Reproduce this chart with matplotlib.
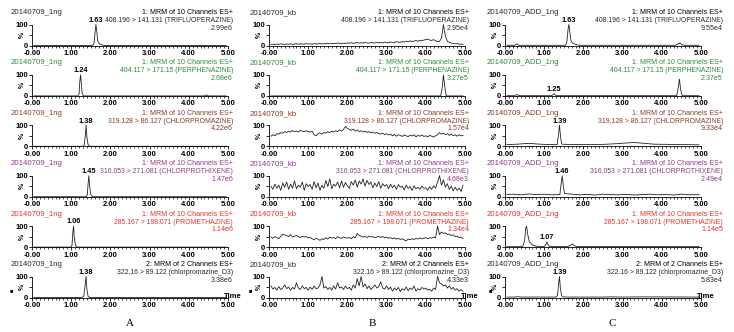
import numpy as np
import matplotlib.pyplot as plt
from matplotlib.ticker import MultipleLocator, FixedLocator, FixedFormatter

plt.rcParams['font.family'] = ['Liberation Sans', 'DejaVu Sans']

W, H = 734, 332

# sample names, one per column
runs = ['20140709_1ng', '20140709_kb', '20140709_ADD_1ng']
column_tags = ['A', 'B', 'C']

# one row per MRM channel
functions = ['1: MRM of 10 Channels ES+'] * 5 + ['2: MRM of 2 Channels ES+']
transitions = ['408.196 > 141.131 (TRIFLUOPERAZINE)',
               '404.117 > 171.15 (PERPHENAZINE)',
               '319.128 > 86.127 (CHLORPROMAZINE)',
               '316.053 > 271.081 (CHLORPROTHIXENE)',
               '285.167 > 198.071 (PROMETHAZINE)',
               '322.16 > 89.122 (chlorpromazine_D3)']
row_colors = ['#2a2a2a', '#2f8a3a', '#8e3b26', '#8c3a8c', '#e8302c', '#2a2a2a']
heights = [['2.99e6', '2.95e4', '9.55e4'],
           ['2.68e6', '3.27e5', '2.37e5'],
           ['4.22e6', '1.57e4', '9.33e4'],
           ['1.47e6', '4.68e3', '2.49e4'],
           ['1.14e6', '1.34e4', '1.14e5'],
           ['3.38e6', '4.33e3', '5.83e4']]

# retention times that get a label (None = no label)
rt_A = [1.63, 1.24, 1.38, 1.45, 1.06, 1.38]
rt_B = [None] * 6
rt_C = [1.63, 1.25, 1.39, 1.46, 1.07, 1.39]

# ---- column A: 1 ng standard ----
A1_t = [0.05, 1.54, 1.58, 1.61, 1.63, 1.65, 1.68, 1.72, 1.78, 1.85, 4.95]
A1_y = [0, 0, 8, 65, 100, 70, 20, 8, 3, 0, 0]
A2_t = [0.05, 1.17, 1.20, 1.22, 1.24, 1.26, 1.28, 1.31, 4.40, 4.45, 4.50, 4.95]
A2_y = [0, 0, 8, 70, 100, 55, 12, 0, 0, 5, 0, 0]
A3_t = [0.05, 1.30, 1.33, 1.36, 1.38, 1.40, 1.43, 1.47, 4.95]
A3_y = [0, 0, 5, 50, 100, 45, 8, 0, 0]
A4_t = [0.05, 1.38, 1.41, 1.43, 1.45, 1.47, 1.50, 1.54, 4.95]
A4_y = [0, 0, 8, 60, 100, 50, 10, 0, 0]
A5_t = [0.05, 0.99, 1.02, 1.04, 1.06, 1.08, 1.11, 1.15, 4.95]
A5_y = [0, 0, 8, 65, 100, 45, 8, 0, 0]
A6_t = [0.05, 1.28, 1.32, 1.35, 1.38, 1.40, 1.43, 1.47, 4.95]
A6_y = [0, 0, 6, 50, 100, 40, 6, 0, 0]

# ---- column B: blank, scans every 0.05 min ----
scan_t = np.round(np.arange(1, 100) * 0.05, 2)
B1_y = [5, 6, 4, 7, 5, 8, 6, 5, 7, 6, 8, 5, 7, 9, 6, 8, 7, 6, 9, 7,
        8, 6, 9, 7, 8, 10, 7, 9, 8, 11, 9, 8, 10, 9, 12, 10, 9, 11, 10, 12,
        11, 13, 10, 12, 14, 11, 13, 12, 15, 12, 11, 14, 13, 12, 15, 13, 14, 12, 16, 14,
        13, 17, 15, 14, 18, 16, 15, 19, 17, 20, 18, 22, 19, 21, 24, 20, 25, 22, 26, 28,
        30, 26, 24, 28, 22, 18, 20, 35, 100, 45, 20, 15, 12, 10, 8, 9, 6, 7, 5]
B2_t = [0.05, 4.38, 4.42, 4.45, 4.48, 4.52, 4.95]
B2_y = [0, 0, 40, 100, 50, 0, 0]
B3_y = [48, 55, 50, 60, 58, 65, 62, 70, 66, 72, 68, 75, 70, 73, 68, 76, 72, 70, 74, 71,
        68, 72, 55, 50, 60, 64, 58, 66, 62, 70, 65, 72, 68, 74, 70, 78, 72, 80, 95, 85,
        80, 76, 82, 72, 78, 70, 74, 68, 72, 66, 70, 64, 68, 62, 66, 60, 58, 63, 56, 60,
        54, 58, 50, 56, 48, 55, 52, 47, 54, 50, 46, 53, 49, 55, 45, 52, 48, 54, 47, 50,
        45, 52, 48, 44, 50, 55, 65, 58, 62, 56, 60, 52, 58, 50, 55, 48, 54, 50, 52]
B4_y = [50, 35, 60, 40, 55, 30, 65, 45, 70, 35, 60, 40, 75, 38, 55, 45, 70, 30, 62, 48,
        58, 35, 72, 42, 65, 30, 55, 40, 78, 48, 85, 38, 60, 50, 70, 42, 75, 45, 68, 52,
        40, 72, 55, 80, 45, 75, 60, 85, 50, 78, 58, 70, 42, 65, 48, 72, 40, 62, 50, 58,
        38, 60, 42, 55, 35, 58, 45, 50, 32, 55, 40, 48, 30, 52, 38, 45, 35, 50, 40, 42,
        30, 48, 35, 52, 40, 70, 100, 55, 80, 45, 62, 35, 50, 28, 45, 30, 40, 25, 55]
B5_y = [48, 42, 50, 45, 40, 52, 62, 58, 55, 50, 60, 48, 52, 55, 50, 45, 52, 48, 50, 44,
        46, 40, 35, 42, 38, 32, 40, 36, 45, 38, 48, 42, 46, 40, 50, 44, 42, 48, 45, 43,
        46, 40, 50, 44, 65, 55, 52, 48, 50, 46, 52, 48, 50, 45, 48, 52, 46, 50, 44, 47,
        42, 45, 40, 44, 38, 42, 36, 40, 34, 30, 38, 35, 40, 36, 42, 38, 44, 40, 42, 45,
        40, 45, 42, 48, 44, 100, 60, 72, 65, 68, 60, 62, 55, 58, 50, 52, 45, 48, 40]
B6_y = [55, 40, 48, 35, 52, 38, 45, 60, 42, 50, 35, 48, 40, 70, 45, 38, 55, 42, 48, 35,
        50, 38, 55, 42, 45, 60, 100, 45, 52, 38, 48, 35, 55, 40, 70, 45, 50, 38, 55, 42,
        48, 35, 60, 45, 90, 55, 100, 50, 65, 42, 55, 38, 48, 60, 45, 52, 75, 45, 40, 55,
        38, 50, 30, 45, 35, 48, 28, 42, 35, 50, 32, 45, 38, 55, 30, 42, 35, 48, 40, 45,
        35, 40, 30, 45, 38, 100, 70, 65, 55, 60, 45, 55, 40, 48, 35, 42, 30, 38, 30]

# ---- column C: spiked sample ----
C1_t = [0.05, 0.25, 0.30, 0.35, 0.5, 1.55, 1.58, 1.61, 1.63, 1.65, 1.68, 1.72, 1.8, 1.9,
        4.35, 4.42, 4.46, 4.52, 4.6, 4.95]
C1_y = [1, 1, 8, 1, 1, 1, 20, 80, 100, 70, 25, 12, 5, 1, 1, 8, 12, 3, 1, 1]
C2_t = [0.05, 0.22, 0.30, 0.38, 0.5, 1.18, 1.22, 1.25, 1.28, 1.32,
        4.38, 4.42, 4.45, 4.48, 4.52, 4.95]
C2_y = [1, 1, 6, 1, 1, 1, 5, 10, 4, 1, 1, 40, 80, 30, 1, 1]
C3_t = [0.05, 0.3, 0.6, 0.9, 1.2, 1.33, 1.36, 1.39, 1.42, 1.45, 1.6, 2.0, 2.5, 2.9,
        3.1, 3.3, 3.5, 3.8, 4.2, 4.6, 4.95]
C3_y = [8, 10, 14, 10, 8, 8, 50, 100, 40, 10, 9, 8, 9, 13, 16, 18, 15, 10, 9, 8, 7]
C4_t = [0.05, 0.2, 0.4, 0.6, 0.8, 1.0, 1.2, 1.40, 1.43, 1.46, 1.49, 1.52, 1.7, 1.9, 2.1,
        2.3, 2.5, 2.7, 2.9, 3.1, 3.3, 3.5, 3.7, 3.9, 4.1, 4.3, 4.5, 4.7, 4.95]
C4_y = [10, 12, 9, 13, 10, 12, 9, 10, 60, 100, 45, 15, 12, 9, 11,
        8, 12, 10, 9, 11, 8, 10, 12, 9, 11, 8, 12, 9, 10]
C5_t = [0.05, 0.45, 0.50, 0.53, 0.55, 0.58, 0.62, 0.7, 0.8, 1.0, 1.04, 1.07, 1.10, 1.14,
        1.6, 1.67, 1.72, 1.77, 1.85, 4.95]
C5_y = [2, 2, 30, 90, 100, 60, 25, 10, 4, 3, 12, 25, 10, 3, 3, 8, 15, 6, 3, 2]
C6_t = [0.05, 0.25, 0.32, 0.4, 0.6, 1.3, 1.34, 1.37, 1.39, 1.41, 1.44, 1.48, 1.6,
        2.5, 2.7, 3.0, 3.5, 4.95]
C6_y = [2, 2, 4, 2, 2, 2, 10, 70, 100, 50, 10, 3, 2, 2, 3, 2, 3, 2]

traces = [[(A1_t, A1_y), (scan_t, B1_y), (C1_t, C1_y)],
          [(A2_t, A2_y), (B2_t, B2_y), (C2_t, C2_y)],
          [(A3_t, A3_y), (scan_t, B3_y), (C3_t, C3_y)],
          [(A4_t, A4_y), (scan_t, B4_y), (C4_t, C4_y)],
          [(A5_t, A5_y), (scan_t, B5_y), (C5_t, C5_y)],
          [(A6_t, A6_y), (scan_t, B6_y), (C6_t, C6_y)]]
labels = [rt_A, rt_B, rt_C]

# layout in pixels
col_x0 = [32, 269, 505]      # x of t=0
col_title = [11, 250, 487]   # left edge of sample name
col_info = [233, 469, 723]   # right edge of channel text
col_marker = [10, 249, 489]  # small square left of the last row
col_tag = [130, 372, 612]
axis_w = 196
row_pitch = 50.4

fig = plt.figure(figsize=(W / 100, H / 100), dpi=100)


def fx(px):
    return px / W


def fy(py):
    return 1 - py / H


for r in range(6):
    top = 12.5 + r * row_pitch
    y100 = top + 12
    y0 = top + 33
    for c in range(3):
        ax = fig.add_axes([fx(col_x0[c]), fy(y0), fx(axis_w), (y0 - y100) / H])
        t, y = traces[r][c]
        ax.plot(t, y, color='#222222', lw=0.6, clip_on=False)
        ax.set_xlim(0, 5)
        ax.set_ylim(0, 100)
        for s in ['top', 'right']:
            ax.spines[s].set_visible(False)
        for s in ['left', 'bottom']:
            ax.spines[s].set_linewidth(0.6)
        ax.patch.set_alpha(0)
        ax.xaxis.set_major_locator(FixedLocator([0, 1, 2, 3, 4, 5]))
        ax.xaxis.set_major_formatter(FixedFormatter(['-0.00', '1.00', '2.00', '3.00', '4.00', '5.00']))
        ax.xaxis.set_minor_locator(MultipleLocator(0.1))
        ax.set_yticks([0, 50, 100])
        ax.set_yticklabels(['0', '', '100'])
        ax.tick_params(axis='x', which='major', length=2.5, width=0.6, pad=0.8,
                       labelsize=5.5)
        ax.tick_params(axis='x', which='minor', length=1.3, width=0.5)
        ax.tick_params(axis='y', length=2, width=0.6, pad=1, labelsize=5.5)
        for lab in ax.get_xticklabels() + ax.get_yticklabels():
            lab.set_fontweight('bold')
        ax.text(-0.03, 0.5, '%', transform=ax.transAxes, rotation=90,
                ha='right', va='center', fontsize=5, fontweight='bold')

        # peak retention time
        rt = labels[c][r]
        if rt is not None:
            ax.text(rt, np.interp(rt, t, y) + 3, f'{rt:.2f}', ha='center', va='bottom',
                    fontsize=5.3, fontweight='bold', color='black', clip_on=False)

        col = row_colors[r]
        fig.text(fx(col_title[c]), fy(top), runs[c], ha='left', va='center',
                 fontsize=5.6, color=col)
        fig.text(fx(col_info[c]), fy(top), functions[r], ha='right', va='center',
                 fontsize=5.1, color='black' if r in (0, 5) else col)
        fig.text(fx(col_info[c]), fy(top + 8), transitions[r], ha='right', va='center',
                 fontsize=4.95, color=col)
        fig.text(fx(col_info[c]), fy(top + 15.5), heights[r][c], ha='right', va='center',
                 fontsize=5.1, color=col)

        if r == 5:
            fig.text(fx(col_x0[c] + axis_w - 4), fy(y0 - 1), 'Time', ha='left',
                     va='center', fontsize=5.5, fontweight='bold')
            fig.text(fx(col_marker[c]), fy(y0 - 7), '\u25a0', ha='left', va='center',
                     fontsize=4)

for c in range(3):
    fig.text(fx(col_tag[c]), fy(323), column_tags[c], ha='center', va='center',
             fontsize=8, family='Liberation Serif')

fig.savefig('out.png', dpi=100)
